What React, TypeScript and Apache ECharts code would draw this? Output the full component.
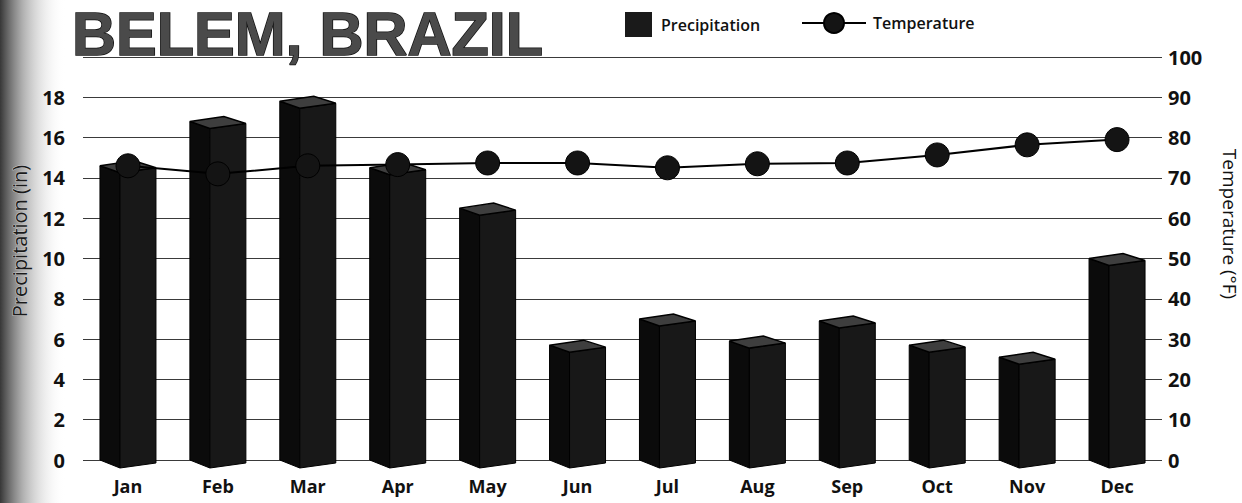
import React, { useEffect, useRef } from "react";
import * as echarts from "echarts";

const months = ["Jan", "Feb", "Mar", "Apr", "May", "Jun", "Jul", "Aug", "Sep", "Oct", "Nov", "Dec"];
const precipitation = [14.6, 16.8, 17.8, 14.5, 12.5, 5.7, 7.0, 5.9, 6.9, 5.7, 5.1, 10.0];
const temperature = [73, 71, 73, 73.3, 73.7, 73.7, 72.5, 73.5, 73.7, 75.7, 78.2, 79.5];
const precipTicks = [0, 2, 4, 6, 8, 10, 12, 14, 16, 18, 20];
const tempTicks = [0, 10, 20, 30, 40, 50, 60, 70, 80, 90, 100];

const FONT = "Open Sans";

export default function App() {
  const ref = useRef<HTMLDivElement>(null);
  useEffect(() => {
    document.body.style.margin = "0";
    if (!ref.current) return;
    const chart = echarts.init(ref.current, undefined, { renderer: "svg" });
    const barData = precipitation.map((v, i) => [i, v]);
    const option: any = {
      animation: false,
      backgroundColor: "#ffffff",
      title: {
        text: "BELEM, BRAZIL",
        left: 72,
        top: 0,
        padding: 0,
        textStyle: {
          fontFamily: "Liberation Sans",
          fontWeight: "bold",
          fontSize: 61,
          lineHeight: 68,
          color: "#4a4a4a",
          textBorderColor: "#111",
          textBorderWidth: 1.5,
        },
      },
      legend: [
        {
          left: 620,
          top: 7,
          itemWidth: 27,
          itemHeight: 25,
          data: [{ name: "Precipitation", icon: "rect" }],
          textStyle: { fontFamily: FONT, fontSize: 16, fontWeight: 600, color: "#111", padding: [0, 0, 2, 4] },
        },
        {
          left: 796,
          top: 7,
          itemWidth: 64,
          itemHeight: 25,
          data: [{ name: "Temperature" }],
          textStyle: { fontFamily: FONT, fontSize: 16, fontWeight: 600, color: "#111", padding: [0, 0, 2, 2] },
        },
      ],
      grid: { left: 83, right: 80, top: 57, bottom: 43, containLabel: false },
      xAxis: {
        type: "category",
        data: months,
        axisLine: { show: false },
        axisTick: { show: false },
        axisLabel: { fontFamily: FONT, fontWeight: "bold", fontSize: 18, color: "#111", margin: 17 },
      },
      yAxis: [
        {
          type: "value",
          min: precipTicks[0],
          max: precipTicks[precipTicks.length - 1],
          interval: 2,
          position: "left",
          axisLine: { show: false },
          axisTick: { show: false },
          axisLabel: {
            fontFamily: FONT,
            fontWeight: "bold",
            fontSize: 20,
            color: "#111",
            margin: 18,
            showMaxLabel: false,
            formatter: (v: number) => (v === precipTicks[precipTicks.length - 1] ? "" : String(v)),
          },
          splitLine: { lineStyle: { color: "#3a3a3a", width: 1 } },
        },
        {
          type: "value",
          min: tempTicks[0],
          max: tempTicks[tempTicks.length - 1],
          interval: 10,
          position: "right",
          axisLine: { show: false },
          axisTick: { show: false },
          axisLabel: { fontFamily: FONT, fontWeight: "bold", fontSize: 20, color: "#111", margin: 6 },
          splitLine: { show: false },
        },
      ],
      graphic: [
        {
          type: "rect",
          left: 0,
          top: 0,
          z: -10,
          silent: true,
          shape: { width: 65, height: 503 },
          style: {
            fill: new echarts.graphic.LinearGradient(0, 0, 1, 0, [
              { offset: 0, color: "rgba(20,20,20,0.85)" },
              { offset: 0.35, color: "rgba(80,80,80,0.45)" },
              { offset: 1, color: "rgba(255,255,255,0)" },
            ]),
          },
        },
        {
          type: "text",
          x: 19,
          y: 241,
          rotation: Math.PI / 2,
          style: {
            text: "Precipitation (in)",
            fontFamily: FONT,
            fontSize: 20,
            fill: "#1a1a1a",
            stroke: "#cccccc",
            lineWidth: 1,
            textAlign: "center",
            textVerticalAlign: "middle",
          },
        },
        {
          type: "text",
          x: 1230,
          y: 224,
          rotation: -Math.PI / 2,
          style: {
            text: "Temperature (°F)",
            fontFamily: FONT,
            fontSize: 19,
            fill: "#111",
            textAlign: "center",
            textVerticalAlign: "middle",
          },
        },
      ],
      series: [
        {
          name: "Precipitation",
          type: "custom",
          yAxisIndex: 0,
          itemStyle: { color: "#1a1a1a" },
          encode: { x: 0, y: 1 },
          data: barData,
          z: 2,
          renderItem: (params: any, api: any) => {
            const idx = api.value(0);
            const v = api.value(1);
            const top = api.coord([idx, v]);
            const base = api.coord([idx, 0]);
            const cx = top[0];
            const L = cx - 28;
            const R = cx + 28;
            const V = cx - 8;
            const yT = top[1];
            const y0 = base[1];
            return {
              type: "group",
              children: [
                {
                  type: "polygon",
                  shape: { points: [[L, yT], [V, yT + 7], [V, y0 + 8], [L, y0]] },
                  style: { fill: "#0b0b0b", stroke: "#000", lineWidth: 1 },
                },
                {
                  type: "polygon",
                  shape: { points: [[V, yT + 7], [R, yT + 2], [R, y0 + 3], [V, y0 + 8]] },
                  style: { fill: "#181818", stroke: "#000", lineWidth: 1 },
                },
                {
                  type: "polygon",
                  shape: { points: [[L, yT], [cx + 6, yT - 5], [R, yT + 2], [V, yT + 7]] },
                  style: { fill: "#3e3e3e", stroke: "#000", lineWidth: 1.5 },
                },
              ],
            };
          },
        },
        {
          name: "Temperature",
          type: "line",
          yAxisIndex: 1,
          data: temperature,
          z: 5,
          symbol: "circle",
          symbolSize: 24,
          lineStyle: { color: "#000", width: 2 },
          itemStyle: { color: "#141414", borderColor: "#000", borderWidth: 1 },
        },
      ],
    };
    chart.setOption(option);
    return () => chart.dispose();
  }, []);
  return <div ref={ref} style={{ position: "absolute", left: 0, top: 0, width: 1242, height: 503 }} />;
}
